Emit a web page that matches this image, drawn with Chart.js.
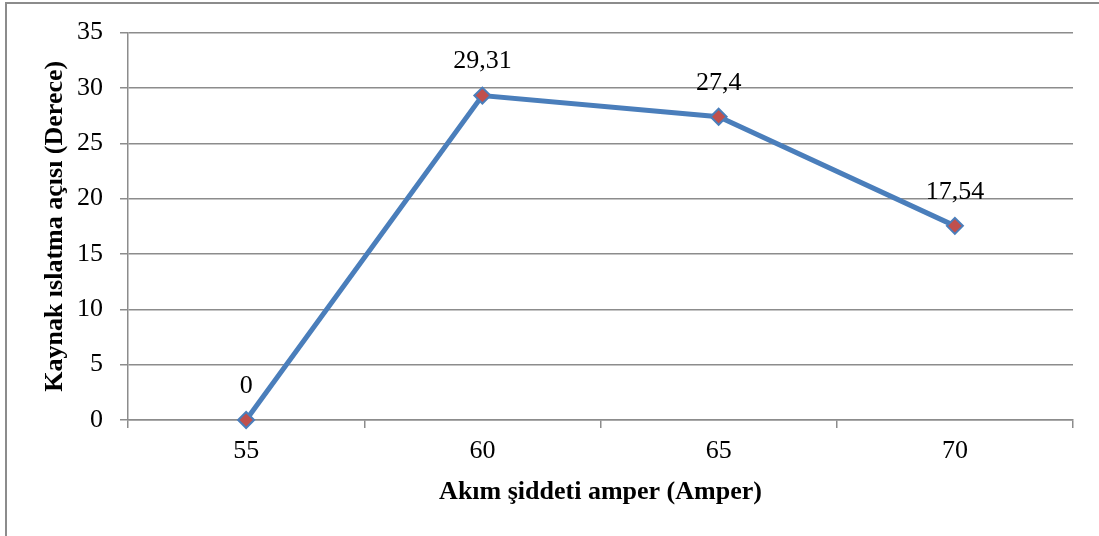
<!DOCTYPE html>
<html>
<head>
<meta charset="utf-8">
<script src="https://cdn.jsdelivr.net/npm/chart.js@4/dist/chart.umd.min.js"></script>
<style>
  html, body { margin: 0; padding: 0; background: #fff; }
  #wrap { position: relative; width: 1099px; height: 536px; overflow: hidden; }
</style>
</head>
<body>
<div id="wrap"><canvas id="c" width="1099" height="536"></canvas></div>
<script>
// Weld wetting angle versus welding current
const currents = ['55', '60', '65', '70'];
const wettingAngle = [0, 29.31, 27.4, 17.54];
const angleLabels = ['0', '29,31', '27,4', '17,54'];
const yTicks = [0, 5, 10, 15, 20, 25, 30, 35];

const serif = "'Liberation Serif', 'Times New Roman', serif";
const gridGray = '#8c8c8c';

// Outer frame of the chart object
const framePlugin = {
  id: 'frame',
  beforeDraw(chart) {
    const ctx = chart.ctx;
    ctx.save();
    ctx.fillStyle = '#ffffff';
    ctx.fillRect(0, 0, chart.width, chart.height);
    ctx.strokeStyle = '#8c8c8c';
    ctx.lineWidth = 2;
    ctx.strokeRect(6, 3, chart.width + 20, chart.height + 20);
    ctx.restore();
  }
};

// Value labels above each marker
const valueLabels = {
  id: 'valueLabels',
  afterDatasetsDraw(chart) {
    const ctx = chart.ctx;
    const meta = chart.getDatasetMeta(0);
    ctx.save();
    ctx.font = '26px ' + serif;
    ctx.fillStyle = '#000';
    ctx.textAlign = 'center';
    ctx.textBaseline = 'middle';
    meta.data.forEach((pt, i) => {
      ctx.fillText(angleLabels[i], pt.x, pt.y - 34);
    });
    ctx.restore();
  }
};

new Chart(document.getElementById('c'), {
  type: 'line',
  data: {
    labels: currents,
    datasets: [{
      data: wettingAngle,
      borderColor: '#4A7EBB',
      borderWidth: 5,
      pointStyle: 'rectRot',
      pointRadius: 8,
      pointHoverRadius: 8,
      pointBackgroundColor: '#C0504D',
      pointBorderColor: '#4A7EBB',
      pointBorderWidth: 2,
      tension: 0,
      clip: false
    }]
  },
  options: {
    responsive: false,
    animation: false,
    events: [],
    layout: { padding: { left: 0, top: 32, right: 26, bottom: 0 } },
    plugins: { legend: { display: false }, tooltip: { enabled: false } },
    scales: {
      x: {
        type: 'category',
        offset: true,
        afterFit(scale) { scale.height = 116; },
        grid: {
          offset: true,
          drawOnChartArea: false,
          tickLength: 8,
          color: gridGray,
          lineWidth: 1.5
        },
        border: { color: gridGray, width: 1.5 },
        ticks: {
          color: '#000',
          font: { family: serif, size: 26 },
          padding: 8
        },
        title: {
          display: true,
          text: 'Akım şiddeti amper (Amper)',
          color: '#000',
          font: { family: serif, size: 26, weight: 'bold' },
          padding: { top: 0, bottom: 28 }
        }
      },
      y: {
        min: 0,
        max: 35,
        afterFit(scale) { scale.width = 128; },
        afterBuildTicks(scale) { scale.ticks = yTicks.map(v => ({ value: v })); },
        grid: {
          tickLength: 8,
          color: gridGray,
          lineWidth: 1.5
        },
        border: { color: gridGray, width: 1.5 },
        ticks: {
          color: '#000',
          font: { family: serif, size: 26 },
          padding: 17
        },
        title: {
          display: true,
          text: 'Kaynak ıslatma açısı (Derece)',
          color: '#000',
          font: { family: serif, size: 26, weight: 'bold' },
          padding: { top: 40, bottom: 0 }
        }
      }
    }
  },
  plugins: [framePlugin, valueLabels]
});
</script>
</body>
</html>
